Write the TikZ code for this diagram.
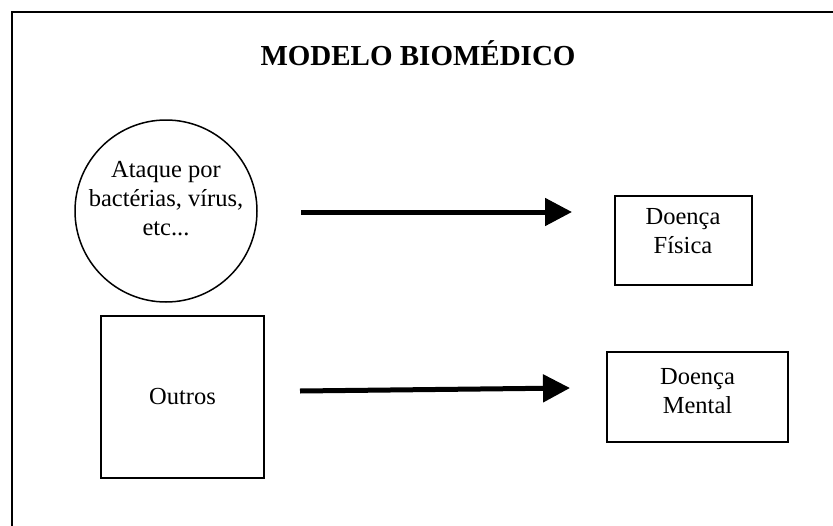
\documentclass[tikz,border=0pt]{standalone}
\usepackage{fontspec}
\setmainfont{Liberation Serif}
\usetikzlibrary{arrows.meta}
\begin{document}
\begin{tikzpicture}[x=1pt,y=-1pt,
  body/.style={font=\fontsize{24.5}{29}\selectfont, align=center, inner sep=0pt},
  shapebox/.style={draw, line width=1.5pt, inner sep=0pt},
  bigarrow/.style={line width=5pt, -{Triangle[length=27pt,width=27pt]}}]
\useasboundingbox (0,0) rectangle (833,525);
\clip (0,0) rectangle (833,525);
\draw[line width=2pt] (12,540) -- (12,12) -- (850,12);
\node[anchor=base, inner sep=0pt, font=\fontsize{29}{34}\selectfont\bfseries] (title) at (418,65) {MODELO BIOMÉDICO};
% circle
\node[shapebox, circle, minimum size=182pt] (circ) at (166,211) {};
\node[body] (ataque) at (166,199) {Ataque por\\bactérias, vírus,\\etc...};
% outros box
\node[shapebox, minimum width=163pt, minimum height=162pt] (outros) at (182.5,397) {};
\node[body] (outrostxt) at (182.5,397) {Outros};
% fisica
\node[shapebox, minimum width=137pt, minimum height=89pt] (fisica) at (683.5,240.5) {};
\node[body] (fisicatxt) at (683,231) {Doença\\Física};
% mental
\node[shapebox, minimum width=181pt, minimum height=90pt] (mental) at (697.5,397) {};
\node[body] (mentaltxt) at (697.5,391) {Doença\\Mental};
% arrows
\coordinate (a1s) at (301,212);
\coordinate (a1e) at (572,212);
\coordinate (a2s) at (300,391);
\coordinate (a2e) at (570,388);
\draw[bigarrow] (a1s) -- (a1e);
\draw[bigarrow] (a2s) -- (a2e);
\end{tikzpicture}
\end{document}
